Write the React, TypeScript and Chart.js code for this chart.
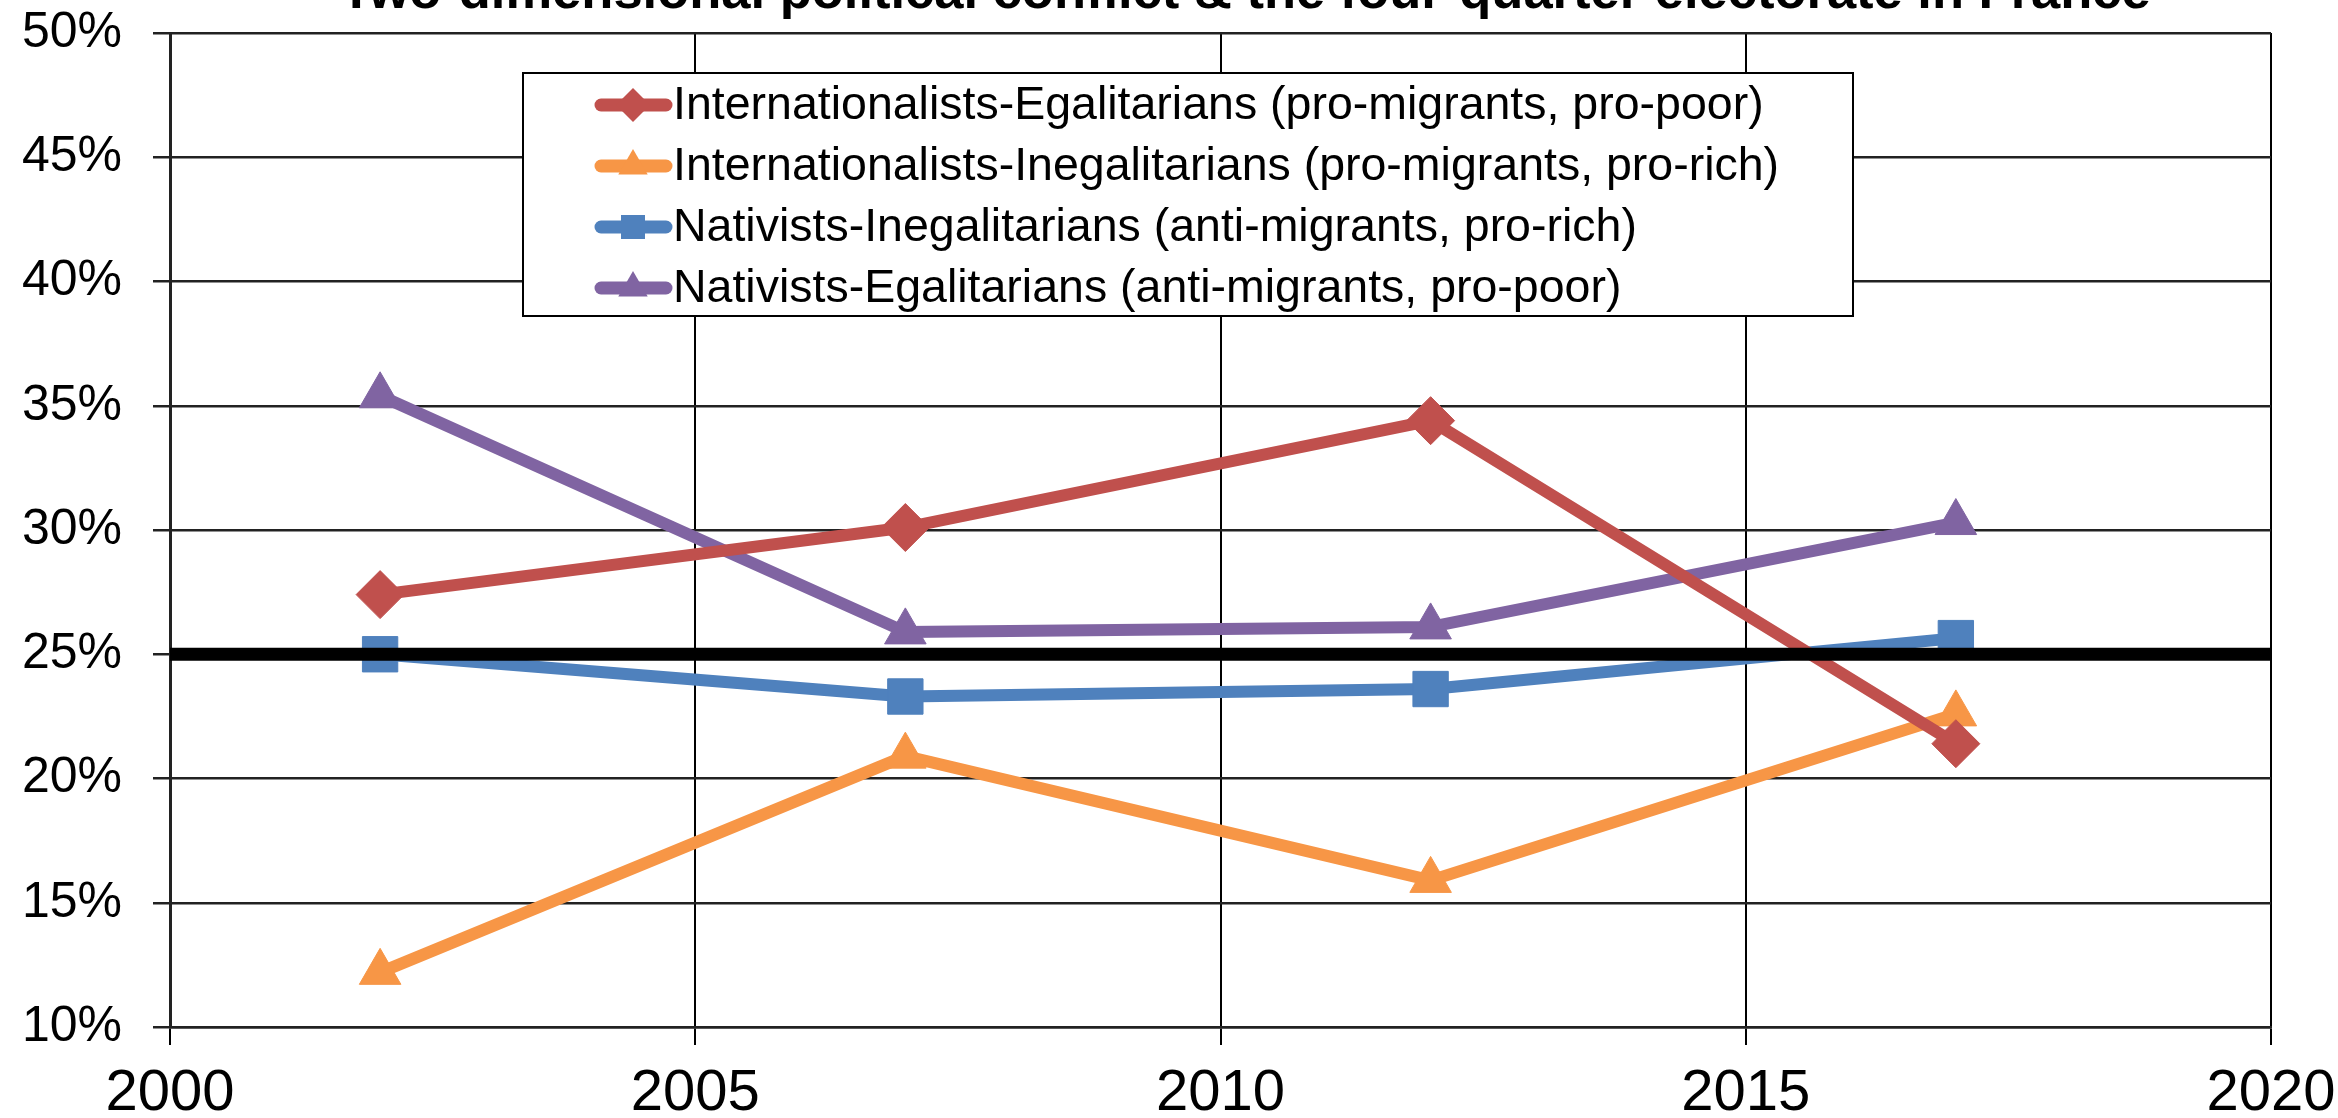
import React, { useEffect, useRef } from 'react';
import { Chart, registerables } from 'chart.js';

Chart.register(...registerables);

const TITLE = 'Two-dimensional political conflict & the four-quarter electorate in France';

const YEARS = [2002, 2007, 2012, 2017];

const LABEL_INT_EGAL = 'Internationalists-Egalitarians (pro-migrants, pro-poor)';
const LABEL_INT_INEGAL = 'Internationalists-Inegalitarians (pro-migrants, pro-rich)';
const LABEL_NAT_INEGAL = 'Nativists-Inegalitarians (anti-migrants, pro-rich)';
const LABEL_NAT_EGAL = 'Nativists-Egalitarians (anti-migrants, pro-poor)';

const INT_EGAL = [27.4, 30.1, 34.4, 21.4];
const INT_INEGAL = [12.2, 20.9, 15.9, 22.6];
const NAT_INEGAL = [25.0, 23.3, 23.6, 25.65];
const NAT_EGAL = [35.4, 25.9, 26.1, 30.3];

const REFERENCE_YEARS = [2000, 2020];
const REFERENCE_VALUES = [25, 25];

const X_TICKS = [2000, 2005, 2010, 2015, 2020];
const Y_TICKS = [10, 15, 20, 25, 30, 35, 40, 45, 50];

const FONT = 'Arial, "Liberation Sans", sans-serif';

const toPoints = (xs: number[], ys: number[]) => xs.map((x, i) => ({ x, y: ys[i] }));

function drawMarker(ctx: CanvasRenderingContext2D, style: string, x: number, y: number, r: number) {
  ctx.beginPath();
  if (style === 'rectRot') {
    ctx.moveTo(x - r, y);
    ctx.lineTo(x, y - r);
    ctx.lineTo(x + r, y);
    ctx.lineTo(x, y + r);
  } else if (style === 'triangle') {
    const h = Math.sqrt(3) / 2 * r;
    ctx.moveTo(x, y - r);
    ctx.lineTo(x + h, y + r / 2);
    ctx.lineTo(x - h, y + r / 2);
  } else {
    const s = Math.SQRT1_2 * r;
    ctx.rect(x - s, y - s, 2 * s, 2 * s);
  }
  ctx.closePath();
  ctx.fill();
}

const titlePlugin = {
  id: 'cutTitle',
  afterDraw(chart: any) {
    const { ctx, chartArea } = chart;
    ctx.save();
    ctx.font = `bold 52.5px ${FONT}`;
    ctx.fillStyle = '#000';
    ctx.textAlign = 'center';
    ctx.textBaseline = 'alphabetic';
    ctx.fillText(TITLE, (chartArea.left + chartArea.right) / 2 + 25, 8);
    ctx.restore();
  },
};

const boxLegendPlugin = {
  id: 'boxLegend',
  afterDraw(chart: any) {
    const { ctx, chartArea } = chart;
    const left = chartArea.left + 353;
    const top = chartArea.top + 40;
    const w = 1330;
    const h = 243;
    ctx.save();
    ctx.fillStyle = '#fff';
    ctx.fillRect(left, top, w, h);
    ctx.strokeStyle = '#000';
    ctx.lineWidth = 2;
    ctx.strokeRect(left, top, w, h);
    const items = chart.data.datasets.filter((d: any) => d.showInLegend);
    items.forEach((d: any, i: number) => {
      const cy = top + 32 + i * 61;
      ctx.strokeStyle = d.borderColor;
      ctx.fillStyle = d.borderColor;
      ctx.lineWidth = 13;
      ctx.lineCap = 'round';
      ctx.beginPath();
      ctx.moveTo(left + 78, cy);
      ctx.lineTo(left + 143, cy);
      ctx.stroke();
      drawMarker(ctx, d.pointStyle, left + 110, cy, 17);
      ctx.fillStyle = '#000';
      ctx.font = `46.5px ${FONT}`;
      ctx.textAlign = 'left';
      ctx.textBaseline = 'middle';
      ctx.fillText(d.label, left + 150, cy + 1);
    });
    ctx.restore();
  },
};

export default function App() {
  const ref = useRef<HTMLCanvasElement | null>(null);

  useEffect(() => {
    document.body.style.margin = '0';
    const canvas = ref.current;
    if (!canvas) return;

    const mk = (label: string, data: number[], color: string, pointStyle: string, radius: number) => ({
      label,
      data: toPoints(YEARS, data),
      borderColor: color,
      backgroundColor: color,
      pointBackgroundColor: color,
      pointBorderColor: color,
      pointBorderWidth: 1,
      borderWidth: 12,
      borderJoinStyle: 'round',
      borderCapStyle: 'round',
      pointStyle,
      pointRadius: radius,
      pointHoverRadius: radius,
      showInLegend: true,
      tension: 0,
    });

    const chart = new Chart(canvas, {
      type: 'line',
      data: {
        datasets: [
          {
            label: '25%',
            data: toPoints(REFERENCE_YEARS, REFERENCE_VALUES),
            borderColor: '#000',
            backgroundColor: '#000',
            borderWidth: 13,
            pointRadius: 0,
            showInLegend: false,
          } as any,
          mk(LABEL_INT_EGAL, INT_EGAL, '#C0504D', 'rectRot', 24),
          mk(LABEL_INT_INEGAL, INT_INEGAL, '#F79646', 'triangle', 24),
          mk(LABEL_NAT_INEGAL, NAT_INEGAL, '#4F81BD', 'rect', 25),
          mk(LABEL_NAT_EGAL, NAT_EGAL, '#8064A2', 'triangle', 24),
        ],
      },
      options: {
        responsive: false,
        animation: false,
        events: [],
        layout: { padding: { left: 0, top: 33, right: 67, bottom: 0 } },
        plugins: {
          legend: { display: false },
          title: { display: false },
          tooltip: { enabled: false },
        },
        scales: {
          x: {
            type: 'linear',
            min: 2000,
            max: 2020,
            afterBuildTicks: (s: any) => {
              s.ticks = X_TICKS.map((v) => ({ value: v }));
            },
            afterFit: (s: any) => {
              s.height = 91;
              s.paddingLeft = 0;
              s.paddingRight = 0;
            },
            ticks: {
              color: '#000',
              font: { family: FONT, size: 58 },
              padding: 14,
              maxRotation: 0,
              autoSkip: false,
              callback: (v: any) => String(v),
            },
            grid: { color: '#000', lineWidth: 2, tickLength: 18, drawTicks: true },
            border: { color: '#222', width: 2.5 },
          },
          y: {
            type: 'linear',
            min: 10,
            max: 50,
            afterBuildTicks: (s: any) => {
              s.ticks = Y_TICKS.map((v) => ({ value: v }));
            },
            afterFit: (s: any) => {
              s.width = 170;
              s.paddingTop = 0;
              s.paddingBottom = 0;
            },
            ticks: {
              color: '#000',
              font: { family: FONT, size: 50 },
              padding: 31,
              callback: (v: any) => `${v}%`,
            },
            grid: { color: '#222', lineWidth: 2.5, tickLength: 17, drawTicks: true },
            border: { color: '#222', width: 3 },
          },
        },
      } as any,
      plugins: [titlePlugin, boxLegendPlugin],
    });

    return () => chart.destroy();
  }, []);

  return <canvas ref={ref} width={2338} height={1118} style={{ display: 'block' }} />;
}
